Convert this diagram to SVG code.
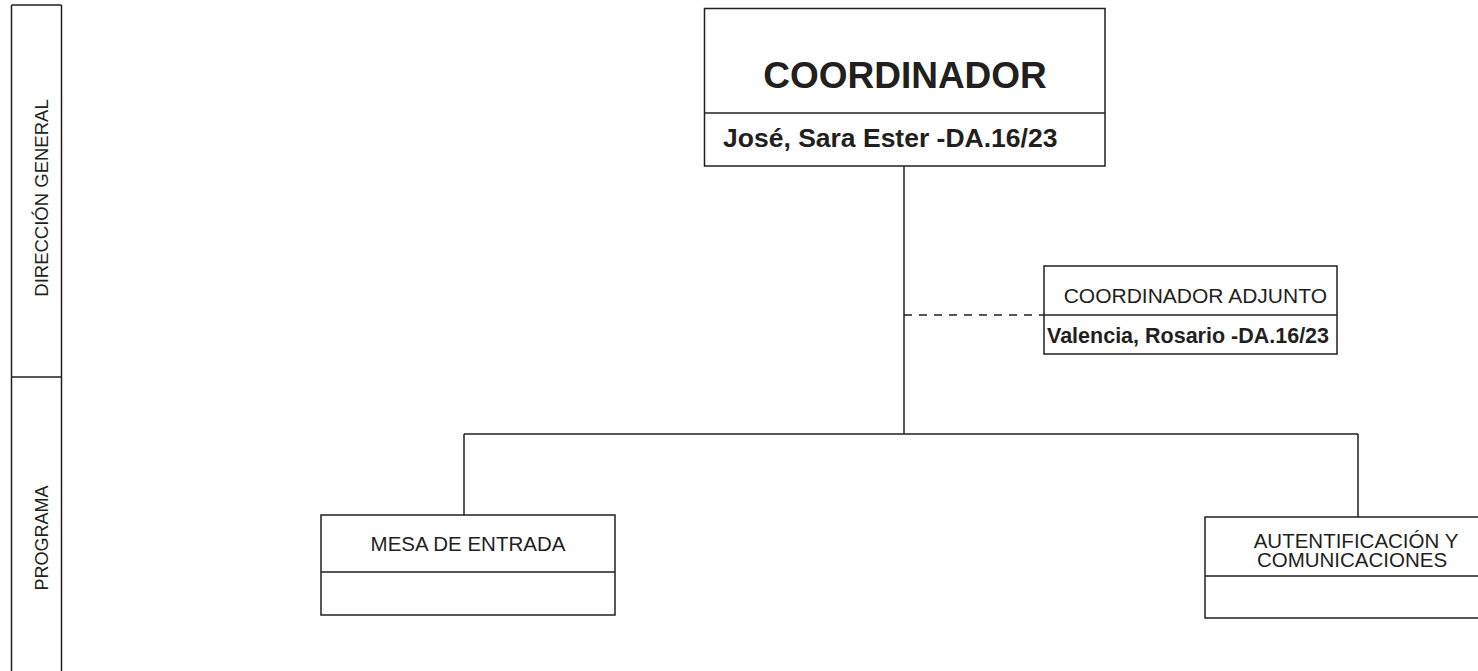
<svg xmlns="http://www.w3.org/2000/svg" width="1478" height="671" viewBox="0 0 1478 671">
<style>
.ln{fill:none;stroke:#231f20;stroke-width:1.5}
.box{fill:#ffffff;stroke:#231f20;stroke-width:1.5}
.t{font-family:"Liberation Sans",Arial,sans-serif;fill:#231f20}
.b{font-weight:bold}
</style>
<rect width="1478" height="671" fill="#ffffff"/>
<g id="lane-left">
<path class="ln" d="M11.5,5 H61.5 M11.5,5 V671 M61.5,5 V671 M11.5,377 H61.5"/>
<text class="t" font-size="18.5" text-anchor="middle" transform="translate(48,198) rotate(-90)">DIRECCIÓN GENERAL</text>
<text class="t" font-size="18" text-anchor="middle" transform="translate(48,538) rotate(-90)">PROGRAMA</text>
</g>
<g id="connectors">
<path class="ln" d="M904,166 V434 M464,434 H1358 M464,434 V515 M1358,434 V517"/>
<path class="ln" stroke-dasharray="8,7" d="M904,315 H1044"/>
</g>
<g id="coordinador">
<rect class="box" x="704.5" y="8.5" width="400.5" height="157.5"/>
<path class="ln" d="M704.5,113 H1105"/>
<text class="t b" font-size="37" x="905" y="88" text-anchor="middle">COORDINADOR</text>
<text class="t b" font-size="26.5" x="723" y="147">José, Sara Ester -DA.16/23</text>
</g>
<g id="coordinador-adjunto">
<rect class="box" x="1044" y="266" width="293" height="88"/>
<path class="ln" d="M1044,315 H1337"/>
<text class="t" font-size="21" x="1327" y="303" text-anchor="end">COORDINADOR ADJUNTO</text>
<text class="t b" font-size="21.5" x="1047" y="343">Valencia, Rosario -DA.16/23</text>
</g>
<g id="mesa-de-entrada">
<rect class="box" x="321" y="515" width="294" height="100"/>
<path class="ln" d="M321,572 H615"/>
<text class="t" font-size="20.5" x="468" y="551" text-anchor="middle">MESA DE ENTRADA</text>
</g>
<g id="autentificacion">
<rect class="box" x="1205" y="517" width="310" height="101"/>
<path class="ln" d="M1205,576 H1515"/>
<text class="t" font-size="20.5" x="1356" y="548" text-anchor="middle">AUTENTIFICACIÓN Y</text>
<text class="t" font-size="20.5" x="1352" y="567" text-anchor="middle">COMUNICACIONES</text>
</g>
</svg>
